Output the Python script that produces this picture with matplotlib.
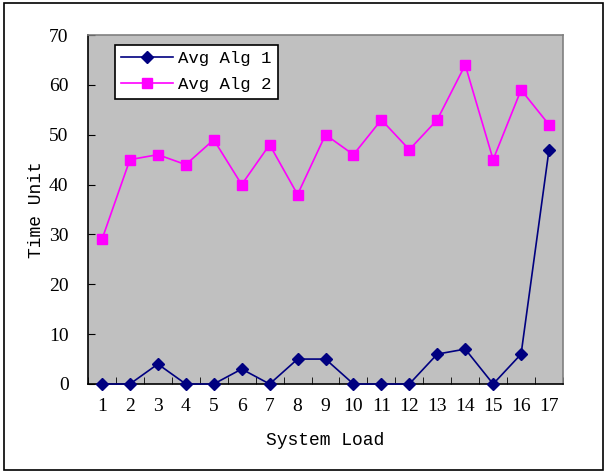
import matplotlib
matplotlib.use("Agg")
import matplotlib.pyplot as plt
from matplotlib.patches import Rectangle
import numpy as np

loads = list(range(1, 18))
alg1 = [0, 0, 4, 0, 0, 3, 0, 5, 5, 0, 0, 0, 6, 7, 0, 6, 47]
alg2 = [29, 45, 46, 44, 49, 40, 48, 38, 50, 46, 53, 47, 53, 64, 45, 59, 52]
y_ticks = [0, 10, 20, 30, 40, 50, 60, 70]

num_font = "Liberation Serif"
txt_font = "Liberation Mono"

fig = plt.figure(figsize=(6.05, 4.75), dpi=100)
fig.patch.set_facecolor("white")
fig.patches.append(Rectangle((4 / 605, 5 / 475), 599 / 605, 467 / 475,
                             transform=fig.transFigure, fill=False,
                             edgecolor="black", linewidth=1.2))

ax = fig.add_axes([88 / 605, 91 / 475, 475 / 605, 349 / 475])
ax.set_facecolor("#c0c0c0")

x = np.arange(len(loads))
ax.plot(x, alg1, color="#000080", linewidth=1.2, marker="D", markersize=6.5,
        markerfacecolor="#000080", markeredgecolor="#000080", label="Avg Alg 1",
        clip_on=False, zorder=3)
ax.plot(x, alg2, color="#ff00ff", linewidth=1.2, marker="s", markersize=7,
        markerfacecolor="#ff00ff", markeredgecolor="#ff00ff", label="Avg Alg 2",
        clip_on=False, zorder=3)

ax.set_xlim(-0.5, len(loads) - 0.5)
ax.set_ylim(0, 70)

ax.set_yticks(y_ticks)
ax.set_yticklabels([str(v) for v in y_ticks], fontfamily=num_font, fontsize=14)
ax.set_xticks(x)
ax.set_xticklabels([str(v) for v in loads], fontfamily=num_font, fontsize=14)
ax.tick_params(axis="x", length=0, pad=10)
ax.set_xticks(np.arange(-0.5, len(loads), 1.0), minor=True)
ax.tick_params(axis="x", which="minor", direction="in", length=5, color="black")
ax.tick_params(axis="y", direction="in", length=5, pad=14, color="black")

for side in ("left", "bottom"):
    ax.spines[side].set_color("black")
    ax.spines[side].set_linewidth(1.2)
for side in ("top", "right"):
    ax.spines[side].set_color("#808080")
    ax.spines[side].set_linewidth(1.2)

ax.set_xlabel("System Load", fontfamily=txt_font, fontsize=13, labelpad=12)
ax.set_ylabel("Time Unit", fontfamily=txt_font, fontsize=13, labelpad=3)

leg = ax.legend(loc="upper left", bbox_to_anchor=(0.057, 0.972),
                prop={"family": txt_font, "size": 12.5}, frameon=True,
                fancybox=False, edgecolor="black", framealpha=1,
                borderpad=0.35, handlelength=3.0, handletextpad=0.3,
                labelspacing=0.65, borderaxespad=0)
leg.get_frame().set_linewidth(1.2)

fig.savefig("out.png", dpi=100, facecolor="white")
